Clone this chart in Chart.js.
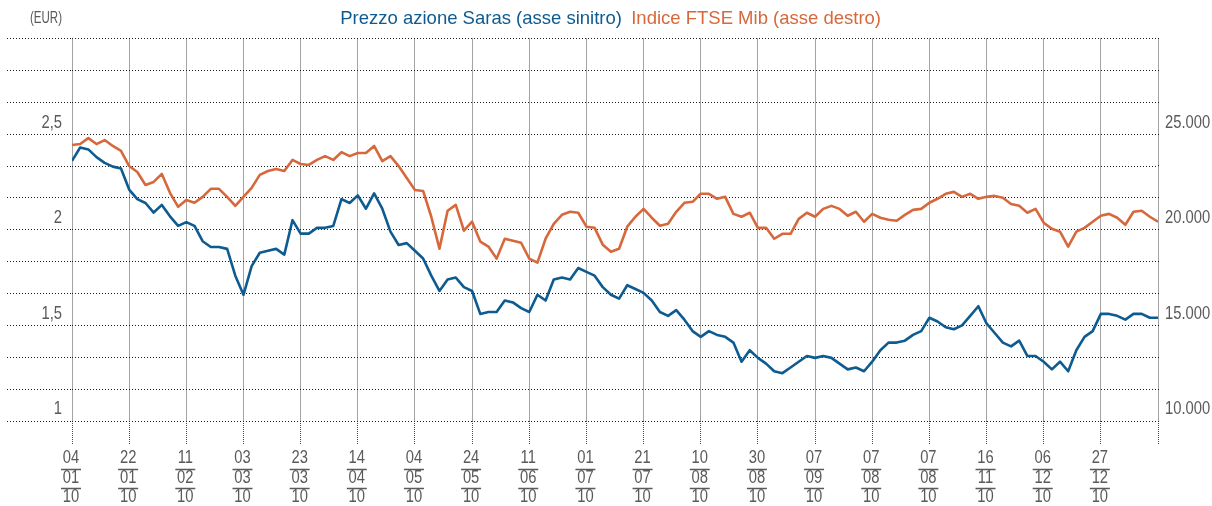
<!DOCTYPE html>
<html>
<head>
<meta charset="utf-8">
<title>Saras vs FTSE Mib 2010</title>
<script src="https://cdn.jsdelivr.net/npm/chart.js@4.4.1/dist/chart.umd.min.js"></script>
<style>
    body { margin: 0; background: #fff; }
    #wrap { width: 1212px; height: 506px; }
</style>
</head>
<body>
<div id="wrap"><canvas id="chartCanvas" width="1212" height="506"></canvas></div>
<script>
// Dates shown under the x axis (day/month/year), one every 7 samples
const xTickLabels = ['04/01/10', '22/01/10', '11/02/10', '03/03/10', '23/03/10', '14/04/10', '04/05/10',
    '24/05/10', '11/06/10', '01/07/10', '21/07/10', '10/08/10', '30/08/10', '07/09/10',
    '07/08/10', '07/08/10', '16/11/10', '06/12/10', '27/12/10'];
const samplesPerLabel = 7;

// Saras share price (EUR, left axis)
const sarasPrice = [
    2.36, 2.43, 2.42, 2.38, 2.35, 2.33, 2.32, 2.21, 2.16, 2.14,
    2.09, 2.13, 2.07, 2.02, 2.04, 2.02, 1.94, 1.91, 1.91, 1.90,
    1.76, 1.66, 1.81, 1.88, 1.89, 1.90, 1.87, 2.05, 1.98, 1.98,
    2.01, 2.01, 2.02, 2.16, 2.14, 2.18, 2.11, 2.19, 2.11, 1.99,
    1.92, 1.93, 1.89, 1.85, 1.76, 1.68, 1.74, 1.75, 1.70, 1.68,
    1.56, 1.57, 1.57, 1.63, 1.62, 1.59, 1.57, 1.66, 1.63, 1.74,
    1.75, 1.74, 1.80, 1.78, 1.76, 1.70, 1.66, 1.64, 1.71, 1.69,
    1.67, 1.63, 1.57, 1.55, 1.58, 1.53, 1.47, 1.44, 1.47, 1.45,
    1.44, 1.41, 1.31, 1.37, 1.33, 1.30, 1.26, 1.25, 1.28, 1.31,
    1.34, 1.33, 1.34, 1.33, 1.30, 1.27, 1.28, 1.26, 1.31, 1.37,
    1.41, 1.41, 1.42, 1.45, 1.47, 1.54, 1.52, 1.49, 1.48, 1.50,
    1.55, 1.60, 1.51, 1.46, 1.41, 1.39, 1.42, 1.34, 1.34, 1.31,
    1.27, 1.31, 1.26, 1.37, 1.44, 1.47, 1.56, 1.56, 1.55, 1.53,
    1.56, 1.56, 1.54, 1.54
];

// FTSE Mib index (right axis)
const ftseMib = [
    24430, 24480, 24790, 24480, 24690, 24380, 24120, 23330, 23020, 22340,
    22500, 22920, 21930, 21200, 21560, 21410, 21720, 22140, 22140, 21720,
    21250, 21720, 22190, 22870, 23070, 23180, 23070, 23650, 23440, 23390,
    23650, 23850, 23650, 24060, 23850, 24010, 24010, 24380, 23590, 23850,
    23330, 22710, 22080, 22030, 20680, 19010, 20990, 21300, 19950, 20420,
    19380, 19120, 18490, 19530, 19430, 19320, 18490, 18280, 19530, 20310,
    20780, 20940, 20890, 20160, 20100, 19220, 18850, 19010, 20160, 20680,
    21090, 20630, 20210, 20310, 20940, 21410, 21460, 21880, 21880, 21620,
    21720, 20830, 20680, 20890, 20100, 20100, 19530, 19790, 19790, 20570,
    20890, 20680, 21090, 21250, 21090, 20730, 20940, 20420, 20830, 20630,
    20520, 20470, 20780, 21040, 21090, 21410, 21620, 21880, 21980, 21720,
    21880, 21620, 21720, 21770, 21670, 21350, 21250, 20890, 21090, 20370,
    20050, 19900, 19120, 19900, 20100, 20420, 20730, 20830, 20630, 20260,
    20940, 20990, 20680, 20420
];

// Axis ranges and labelled ticks
const leftMin = 1, leftMax = 3;
const leftTickValues = [1, 1.5, 2, 2.5];
const leftTickText = ['1', '1,5', '2', '2,5'];
const rightMin = 10000, rightMax = 30000;
const rightTickValues = [10000, 15000, 20000, 25000];
const rightTickText = ['10.000', '15.000', '20.000', '25.000'];
const gridSteps = 12;
const unitLabel = '(EUR)';

const seriesNames = ['Prezzo azione Saras (asse sinitro)', 'Indice FTSE Mib (asse destro)'];
const seriesColors = ['#0d5b91', '#d6683b'];

const baseFont = "'Liberation Sans', Arial, sans-serif";
const labelGray = '#5a5a5a';
const squeeze = 0.82;   // the original uses a condensed face

function evenTicks(min, max, steps) {
    let out = [];
    for (let i = 0; i <= steps; i++) {
        out.push({ value: min + (max - min) * i / steps });
    }
    return out;
}

// draws text narrowed horizontally, anchored at x
function narrowText(ctx, text, x, y, align, k) {
    ctx.save();
    ctx.translate(x, y);
    ctx.scale(k, 1);
    ctx.textAlign = align;
    ctx.fillText(text, 0, 0);
    ctx.restore();
}

// Axis texts: y labels above their grid line, dates as day / month / year
const axisTextPlugin = {
    id: 'axisText',
    afterDraw(chart) {
        const ctx = chart.ctx;
        const xs = chart.scales.x;
        const yl = chart.scales.y;
        const yr = chart.scales.y1;
        const base = chart.chartArea.bottom;
        ctx.save();
        ctx.fillStyle = labelGray;
        ctx.strokeStyle = labelGray;
        ctx.textBaseline = 'middle';

        ctx.font = '18px ' + baseFont;
        leftTickValues.forEach((v, i) => {
            narrowText(ctx, leftTickText[i], 62, yl.getPixelForValue(v) - 11.5, 'right', squeeze);
        });
        rightTickValues.forEach((v, i) => {
            narrowText(ctx, rightTickText[i], 1165, yr.getPixelForValue(v) - 11.5, 'left', squeeze);
        });

        ctx.font = '18px ' + baseFont;
        ctx.lineWidth = 1.3;
        xTickLabels.forEach((lbl, i) => {
            const px = xs.getPixelForValue(i * samplesPerLabel) - 1;
            const parts = lbl.split('/');
            narrowText(ctx, parts[0], px, base + 37.5, 'center', squeeze);
            narrowText(ctx, parts[1], px, base + 57.5, 'center', squeeze);
            narrowText(ctx, parts[2], px, base + 76.5, 'center', squeeze);
            ctx.beginPath();
            ctx.moveTo(px - 10, base + 48.5);
            ctx.lineTo(px + 10, base + 48.5);
            ctx.moveTo(px - 10, base + 67.5);
            ctx.lineTo(px + 10, base + 67.5);
            ctx.stroke();
        });

        ctx.font = '16px ' + baseFont;
        narrowText(ctx, unitLabel, 62, 19, 'right', 0.72);
        ctx.restore();
    }
};

const ctx = document.getElementById('chartCanvas').getContext('2d');

let chart = new Chart(ctx, {
    type: 'line',
    data: {
        datasets: [{
            label: seriesNames[0],
            data: sarasPrice.map((v, i) => ({ x: i, y: v })),
            yAxisID: 'y',
            borderColor: seriesColors[0],
            borderWidth: 2.6,
            pointRadius: 0,
            tension: 0,
            borderJoinStyle: 'round'
        }, {
            label: seriesNames[1],
            data: ftseMib.map((v, i) => ({ x: i, y: v })),
            yAxisID: 'y1',
            borderColor: seriesColors[1],
            borderWidth: 2.6,
            pointRadius: 0,
            tension: 0,
            borderJoinStyle: 'round'
        }]
    },
    options: {
        responsive: false,
        animation: false,
        layout: { padding: { top: 10, left: 0, right: 0, bottom: 0 } },
        plugins: {
            tooltip: { enabled: false },
            legend: {
                display: true,
                position: 'top',
                labels: {
                    boxWidth: 0,
                    boxHeight: 0,
                    padding: 0,
                    font: { size: 18.5, family: baseFont },
                    generateLabels: (c) => c.data.datasets.map((ds, i) => ({
                        text: ds.label,
                        fontColor: seriesColors[i],
                        fillStyle: 'rgba(0,0,0,0)',
                        strokeStyle: 'rgba(0,0,0,0)',
                        lineWidth: 0,
                        datasetIndex: i
                    }))
                }
            }
        },
        scales: {
            x: {
                type: 'linear',
                min: 0,
                max: sarasPrice.length - 1,
                afterBuildTicks: (scale) => {
                    let t = [];
                    for (let v = 0; v < sarasPrice.length; v += samplesPerLabel) t.push({ value: v });
                    scale.ticks = t;
                },
                afterFit: (scale) => { scale.height = 85; },
                ticks: { display: false },
                border: { display: false, dash: [1, 1] },
                grid: {
                    color: '#4a4a4a',
                    lineWidth: 1,
                    drawTicks: true,
                    tickLength: 24,
                    tickColor: '#4a4a4a',
                    tickBorderDash: [1, 1]
                }
            },
            y: {
                position: 'left',
                min: leftMin,
                max: leftMax,
                afterBuildTicks: (scale) => { scale.ticks = evenTicks(leftMin, leftMax, gridSteps); },
                afterFit: (scale) => { scale.width = 72; },
                ticks: { display: false },
                border: { display: false, dash: [1, 2] },
                grid: {
                    color: '#1e1e1e',
                    lineWidth: 1,
                    drawTicks: true,
                    tickLength: 65,
                    tickColor: '#1e1e1e',
                    tickBorderDash: [1, 2]
                }
            },
            y1: {
                position: 'right',
                min: rightMin,
                max: rightMax,
                afterBuildTicks: (scale) => { scale.ticks = evenTicks(rightMin, rightMax, gridSteps); },
                afterFit: (scale) => { scale.width = 54; },
                ticks: { display: false },
                border: { display: false, dash: [1, 2] },
                grid: {
                    drawOnChartArea: false,
                    drawTicks: true,
                    tickLength: 2,
                    tickColor: '#1e1e1e',
                    tickBorderDash: [1, 2]
                }
            }
        }
    },
    plugins: [axisTextPlugin]
});
</script>
</body>
</html>
